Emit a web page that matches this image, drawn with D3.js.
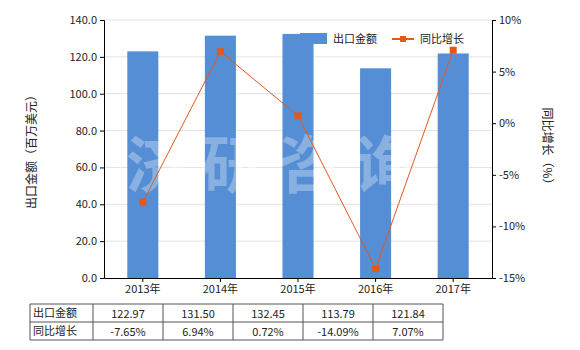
<!DOCTYPE html>
<html>
<head>
<meta charset="utf-8">
<script src="https://cdn.jsdelivr.net/npm/d3@7"></script>
<style>
  body { margin: 0; background: #fff; }
  text { font-family: "Noto Sans CJK SC", "DejaVu Sans", sans-serif; }
</style>
</head>
<body>
<div id="chart"></div>
<script>
/* chart data */
var years = ["2013年", "2014年", "2015年", "2016年", "2017年"];
var exportValues = [122.97, 131.50, 132.45, 113.79, 121.84];
var growthRates = [-7.65, 6.94, 0.72, -14.09, 7.07];
var leftTicks = [0, 20, 40, 60, 80, 100, 120, 140];
var rightTicks = [-15, -10, -5, 0, 5, 10];
var seriesNames = ["出口金额", "同比增长"];

var barColor = "#558ED5",
    lineColor = "#E0591E",
    fontSize = 11;

var margin = { top: 20, left: 104, right: 88, bottom: 72 },
    width = 580 - margin.left - margin.right,
    height = 350 - margin.top - margin.bottom;

var svg = d3.select("#chart")
    .append("svg")
    .attr("width", 580)
    .attr("height", 350);

var chart = svg.append("g")
    .attr("transform", "translate(" + margin.left + "," + margin.top + ")");

/* scales */
var x = d3.scaleBand().domain(years).range([0, width]);
var y = d3.scaleLinear().domain([0, 140]).range([height, 0]);
var y2 = d3.scaleLinear().domain([-15, 10]).range([height, 0]);

/* grid lines */
chart.append("g").selectAll("line")
    .data(leftTicks.slice(1))
    .enter().append("line")
    .attr("x1", 0).attr("x2", width)
    .attr("y1", function(d) { return y(d); })
    .attr("y2", function(d) { return y(d); })
    .attr("stroke", "#e3e3e3")
    .attr("stroke-width", 1);

/* watermark */
chart.append("text")
    .attr("x", width / 2 - 20)
    .attr("y", 168)
    .attr("text-anchor", "middle")
    .attr("font-size", 62)
    .attr("font-weight", "bold")
    .attr("fill", "#ffffff")
    .attr("fill-opacity", 0.35)
    .attr("letter-spacing", 14)
    .text("济研咨询");

/* bars */
var barWidth = x.bandwidth() * 0.4;
chart.append("g").selectAll("rect")
    .data(exportValues)
    .enter().append("rect")
    .attr("x", function(d, i) { return x(years[i]) + (x.bandwidth() - barWidth) / 2; })
    .attr("y", function(d) { return y(d); })
    .attr("width", barWidth)
    .attr("height", function(d) { return height - y(d); })
    .attr("fill", barColor);

/* redraw watermark over bars */
chart.append("text")
    .attr("x", width / 2 - 20)
    .attr("y", 168)
    .attr("text-anchor", "middle")
    .attr("font-size", 62)
    .attr("font-weight", "bold")
    .attr("fill", "#ffffff")
    .attr("fill-opacity", 0.3)
    .attr("letter-spacing", 14)
    .text("济研咨询");

/* growth line */
var line = d3.line()
    .x(function(d, i) { return x(years[i]) + x.bandwidth() / 2; })
    .y(function(d) { return y2(d); });

chart.append("path")
    .datum(growthRates)
    .attr("fill", "none")
    .attr("stroke", lineColor)
    .attr("stroke-width", 1)
    .attr("d", line);

chart.append("g").selectAll("rect")
    .data(growthRates)
    .enter().append("rect")
    .attr("x", function(d, i) { return x(years[i]) + x.bandwidth() / 2 - 3.5; })
    .attr("y", function(d) { return y2(d) - 3.5; })
    .attr("width", 7)
    .attr("height", 7)
    .attr("fill", lineColor);

/* axes */
var yAxis = d3.axisLeft(y).tickValues(leftTicks).tickSize(4)
    .tickFormat(function(d) { return d.toFixed(1); });
var y2Axis = d3.axisRight(y2).tickValues(rightTicks).tickSize(4)
    .tickFormat(function(d) { return d + "%"; });
var xAxis = d3.axisBottom(x).tickSize(4).tickSizeOuter(0);

function styleAxis(g) {
    g.select(".domain").attr("stroke", "#000");
    g.selectAll(".tick line").attr("stroke", "#000");
    g.selectAll(".tick text")
        .attr("font-size", fontSize)
        .attr("fill", "#222")
        .style("font-family", "'Noto Sans CJK SC', sans-serif");
}

chart.append("g").call(yAxis).call(styleAxis);
chart.append("g").attr("transform", "translate(" + width + ",0)").call(y2Axis).call(styleAxis);
chart.append("g").attr("transform", "translate(0," + height + ")").call(xAxis).call(styleAxis);

/* axis titles */
svg.append("text")
    .attr("transform", "translate(36," + (margin.top + height / 2) + ")rotate(-90)")
    .attr("text-anchor", "middle")
    .attr("font-size", 12)
    .attr("fill", "#222")
    .text("出口金额（百万美元）");

svg.append("text")
    .attr("transform", "translate(543," + (margin.top + height / 2) + ")rotate(90)")
    .attr("text-anchor", "middle")
    .attr("font-size", 12)
    .attr("fill", "#222")
    .text("同比增长（%）");

/* legend */
var legend = svg.append("g");
legend.append("rect")
    .attr("x", 300).attr("y", 33)
    .attr("width", 27).attr("height", 11)
    .attr("fill", barColor);
legend.append("text")
    .attr("x", 333).attr("y", 43)
    .attr("font-size", fontSize)
    .attr("fill", "#222")
    .text(seriesNames[0]);
legend.append("line")
    .attr("x1", 392).attr("x2", 414)
    .attr("y1", 39).attr("y2", 39)
    .attr("stroke", lineColor).attr("stroke-width", 2);
legend.append("rect")
    .attr("x", 400).attr("y", 36)
    .attr("width", 6).attr("height", 6)
    .attr("fill", lineColor);
legend.append("text")
    .attr("x", 420).attr("y", 43)
    .attr("font-size", fontSize)
    .attr("fill", "#222")
    .text(seriesNames[1]);

/* data table */
var tableX = 30, firstCol = 63, colW = 70,
    rowTops = [304, 322, 340];
var table = svg.append("g");
var tableRows = [
    exportValues.map(function(d) { return d.toFixed(2); }),
    growthRates.map(function(d) { return d.toFixed(2) + "%"; })
];
var tableRight = tableX + firstCol + colW * years.length;

rowTops.forEach(function(t) {
    table.append("line")
        .attr("x1", tableX).attr("x2", tableRight)
        .attr("y1", t).attr("y2", t)
        .attr("stroke", "#555");
});
d3.range(years.length + 2).forEach(function(i) {
    var cx = i === 0 ? tableX : tableX + firstCol + colW * (i - 1);
    table.append("line")
        .attr("x1", cx).attr("x2", cx)
        .attr("y1", rowTops[0]).attr("y2", rowTops[2])
        .attr("stroke", "#555");
});
tableRows.forEach(function(row, r) {
    table.append("text")
        .attr("x", tableX + 3)
        .attr("y", rowTops[r] + 13)
        .attr("font-size", fontSize)
        .attr("fill", "#222")
        .text(seriesNames[r]);
    row.forEach(function(v, i) {
        table.append("text")
            .attr("x", tableX + firstCol + colW * i + colW / 2)
            .attr("y", rowTops[r] + 14)
            .attr("text-anchor", "middle")
            .attr("font-size", fontSize)
            .attr("fill", "#222")
            .text(v);
    });
});
</script>
</body>
</html>
